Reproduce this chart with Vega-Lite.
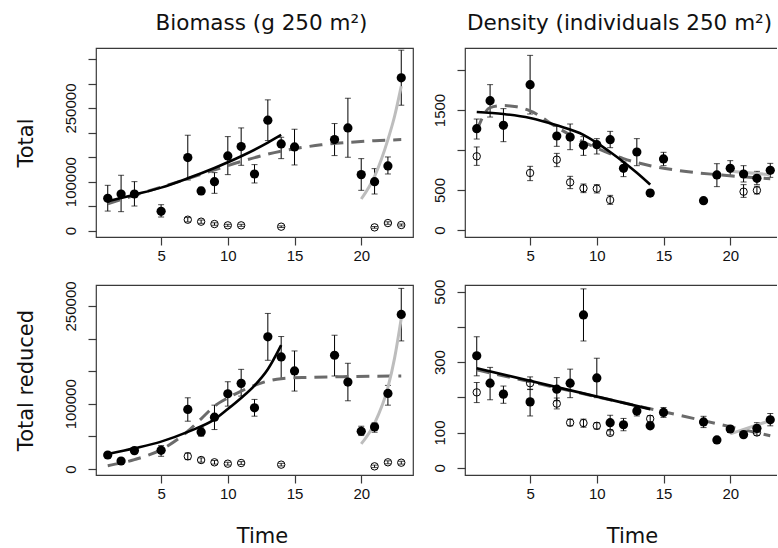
{
  "$schema": "https://vega.github.io/schema/vega-lite/v6.json",
  "background": "white",
  "padding": {"left": 14, "top": 11, "right": -6, "bottom": 0},
  "datasets": {
    "pts": [
      {"p":"TL","t":1,"v":66000,"lo":40000,"hi":92500,"f":1},
      {"p":"TL","t":2,"v":74800,"lo":38800,"hi":113000,"f":1},
      {"p":"TL","t":3,"v":74800,"lo":50300,"hi":100000,"f":1},
      {"p":"TL","t":5,"v":39500,"lo":27900,"hi":53000,"f":1},
      {"p":"TL","t":7,"v":149000,"lo":103400,"hi":194600,"f":1},
      {"p":"TL","t":8,"v":81000,"lo":73500,"hi":88400,"f":1},
      {"p":"TL","t":9,"v":100000,"lo":76200,"hi":118400,"f":1},
      {"p":"TL","t":10,"v":152400,"lo":114300,"hi":191800,"f":1},
      {"p":"TL","t":11,"v":171400,"lo":133300,"hi":209500,"f":1},
      {"p":"TL","t":12,"v":115600,"lo":97300,"hi":134700,"f":1},
      {"p":"TL","t":13,"v":225200,"lo":183700,"hi":266700,"f":1},
      {"p":"TL","t":14,"v":176900,"lo":146900,"hi":190500,"f":1},
      {"p":"TL","t":15,"v":170700,"lo":134000,"hi":206800,"f":1},
      {"p":"TL","t":18,"v":185700,"lo":153100,"hi":218400,"f":1},
      {"p":"TL","t":19,"v":209500,"lo":149700,"hi":270000,"f":1},
      {"p":"TL","t":20,"v":114300,"lo":82300,"hi":146900,"f":1},
      {"p":"TL","t":21,"v":100000,"lo":74800,"hi":126500,"f":1},
      {"p":"TL","t":22,"v":132000,"lo":115600,"hi":150300,"f":1},
      {"p":"TL","t":23,"v":311600,"lo":255800,"hi":368000,"f":1},
      {"p":"TL","t":7,"v":22400,"lo":18000,"hi":26800,"f":0},
      {"p":"TL","t":8,"v":18400,"lo":15000,"hi":21800,"f":0},
      {"p":"TL","t":9,"v":13600,"lo":11000,"hi":16200,"f":0},
      {"p":"TL","t":10,"v":10900,"lo":8800,"hi":13000,"f":0},
      {"p":"TL","t":11,"v":10900,"lo":8800,"hi":13000,"f":0},
      {"p":"TL","t":14,"v":8200,"lo":6500,"hi":9900,"f":0},
      {"p":"TL","t":21,"v":6800,"lo":5000,"hi":8600,"f":0},
      {"p":"TL","t":22,"v":15600,"lo":13000,"hi":18200,"f":0},
      {"p":"TL","t":23,"v":11600,"lo":9500,"hi":13700,"f":0},

      {"p":"TR","t":1,"v":1267,"lo":1137,"hi":1387,"f":1},
      {"p":"TR","t":2,"v":1617,"lo":1412,"hi":1817,"f":1},
      {"p":"TR","t":3,"v":1308,"lo":1104,"hi":1517,"f":1},
      {"p":"TR","t":5,"v":1817,"lo":1450,"hi":2183,"f":1},
      {"p":"TR","t":7,"v":1175,"lo":1046,"hi":1296,"f":1},
      {"p":"TR","t":8,"v":1162,"lo":1004,"hi":1325,"f":1},
      {"p":"TR","t":9,"v":1058,"lo":933,"hi":1167,"f":1},
      {"p":"TR","t":10,"v":1067,"lo":950,"hi":1142,"f":1},
      {"p":"TR","t":11,"v":1129,"lo":1029,"hi":1233,"f":1},
      {"p":"TR","t":12,"v":771,"lo":667,"hi":850,"f":1},
      {"p":"TR","t":13,"v":975,"lo":804,"hi":1142,"f":1},
      {"p":"TR","t":14,"v":462,"lo":425,"hi":500,"f":1},
      {"p":"TR","t":15,"v":888,"lo":804,"hi":971,"f":1},
      {"p":"TR","t":18,"v":367,"lo":340,"hi":395,"f":1},
      {"p":"TR","t":19,"v":688,"lo":542,"hi":829,"f":1},
      {"p":"TR","t":20,"v":771,"lo":683,"hi":867,"f":1},
      {"p":"TR","t":21,"v":700,"lo":600,"hi":804,"f":1},
      {"p":"TR","t":22,"v":646,"lo":567,"hi":733,"f":1},
      {"p":"TR","t":23,"v":746,"lo":658,"hi":833,"f":1},
      {"p":"TR","t":1,"v":921,"lo":808,"hi":1038,"f":0},
      {"p":"TR","t":5,"v":713,"lo":617,"hi":796,"f":0},
      {"p":"TR","t":7,"v":879,"lo":792,"hi":958,"f":0},
      {"p":"TR","t":8,"v":596,"lo":517,"hi":671,"f":0},
      {"p":"TR","t":9,"v":521,"lo":467,"hi":575,"f":0},
      {"p":"TR","t":10,"v":517,"lo":463,"hi":567,"f":0},
      {"p":"TR","t":11,"v":375,"lo":321,"hi":433,"f":0},
      {"p":"TR","t":21,"v":479,"lo":408,"hi":567,"f":0},
      {"p":"TR","t":22,"v":496,"lo":450,"hi":546,"f":0},

      {"p":"BL","t":1,"v":21500,"lo":18000,"hi":25000,"f":1},
      {"p":"BL","t":2,"v":12300,"lo":10000,"hi":14600,"f":1},
      {"p":"BL","t":3,"v":28200,"lo":24000,"hi":32400,"f":1},
      {"p":"BL","t":5,"v":28700,"lo":19500,"hi":35900,"f":1},
      {"p":"BL","t":7,"v":91300,"lo":73300,"hi":109200,"f":1},
      {"p":"BL","t":8,"v":56900,"lo":50300,"hi":64100,"f":1},
      {"p":"BL","t":9,"v":79500,"lo":60500,"hi":97900,"f":1},
      {"p":"BL","t":10,"v":115400,"lo":96400,"hi":133800,"f":1},
      {"p":"BL","t":11,"v":131300,"lo":111800,"hi":152800,"f":1},
      {"p":"BL","t":12,"v":93800,"lo":81000,"hi":106700,"f":1},
      {"p":"BL","t":13,"v":202600,"lo":166700,"hi":238500,"f":1},
      {"p":"BL","t":14,"v":171800,"lo":138500,"hi":203100,"f":1},
      {"p":"BL","t":15,"v":150300,"lo":119500,"hi":181000,"f":1},
      {"p":"BL","t":18,"v":174400,"lo":142600,"hi":205100,"f":1},
      {"p":"BL","t":19,"v":133300,"lo":104600,"hi":162100,"f":1},
      {"p":"BL","t":20,"v":57900,"lo":51300,"hi":65600,"f":1},
      {"p":"BL","t":21,"v":64600,"lo":56400,"hi":70800,"f":1},
      {"p":"BL","t":22,"v":115900,"lo":97900,"hi":128200,"f":1},
      {"p":"BL","t":23,"v":236900,"lo":196400,"hi":276900,"f":1},
      {"p":"BL","t":7,"v":19500,"lo":14400,"hi":24600,"f":0},
      {"p":"BL","t":8,"v":13800,"lo":10500,"hi":17100,"f":0},
      {"p":"BL","t":9,"v":10300,"lo":7500,"hi":13100,"f":0},
      {"p":"BL","t":10,"v":8200,"lo":6000,"hi":10400,"f":0},
      {"p":"BL","t":11,"v":9200,"lo":7000,"hi":11400,"f":0},
      {"p":"BL","t":14,"v":6700,"lo":4700,"hi":8700,"f":0},
      {"p":"BL","t":21,"v":4100,"lo":2200,"hi":6000,"f":0},
      {"p":"BL","t":22,"v":10300,"lo":8000,"hi":12600,"f":0},
      {"p":"BL","t":23,"v":9700,"lo":7500,"hi":11900,"f":0},

      {"p":"BR","t":1,"v":318,"lo":261,"hi":372,"f":1},
      {"p":"BR","t":2,"v":240,"lo":193,"hi":285,"f":1},
      {"p":"BR","t":3,"v":209,"lo":183,"hi":232,"f":1},
      {"p":"BR","t":5,"v":187,"lo":147,"hi":223,"f":1},
      {"p":"BR","t":7,"v":223,"lo":190,"hi":256,"f":1},
      {"p":"BR","t":8,"v":240,"lo":199,"hi":280,"f":1},
      {"p":"BR","t":9,"v":434,"lo":360,"hi":508,"f":1},
      {"p":"BR","t":10,"v":255,"lo":199,"hi":311,"f":1},
      {"p":"BR","t":11,"v":128,"lo":108,"hi":149,"f":1},
      {"p":"BR","t":12,"v":122,"lo":105,"hi":140,"f":1},
      {"p":"BR","t":13,"v":161,"lo":147,"hi":171,"f":1},
      {"p":"BR","t":14,"v":119,"lo":111,"hi":127,"f":1},
      {"p":"BR","t":15,"v":157,"lo":143,"hi":171,"f":1},
      {"p":"BR","t":18,"v":130,"lo":114,"hi":146,"f":1},
      {"p":"BR","t":19,"v":79,"lo":76,"hi":82,"f":1},
      {"p":"BR","t":20,"v":110,"lo":100,"hi":119,"f":1},
      {"p":"BR","t":21,"v":94,"lo":90,"hi":98,"f":1},
      {"p":"BR","t":22,"v":112,"lo":100,"hi":128,"f":1},
      {"p":"BR","t":23,"v":136,"lo":119,"hi":154,"f":1},
      {"p":"BR","t":1,"v":214,"lo":185,"hi":242,"f":0},
      {"p":"BR","t":5,"v":240,"lo":222,"hi":258,"f":0},
      {"p":"BR","t":7,"v":182,"lo":167,"hi":198,"f":0},
      {"p":"BR","t":8,"v":128,"lo":119,"hi":138,"f":0},
      {"p":"BR","t":9,"v":127,"lo":115,"hi":138,"f":0},
      {"p":"BR","t":10,"v":119,"lo":110,"hi":128,"f":0},
      {"p":"BR","t":11,"v":99,"lo":93,"hi":105,"f":0},
      {"p":"BR","t":14,"v":139,"lo":130,"hi":148,"f":0},
      {"p":"BR","t":22,"v":100,"lo":92,"hi":108,"f":0}
    ],
    "lns": [
      {"p":"TL","s":"b","t":1,"v":59900},{"p":"TL","s":"b","t":3,"v":73500},{"p":"TL","s":"b","t":5,"v":87800},{"p":"TL","s":"b","t":7,"v":106800},{"p":"TL","s":"b","t":9,"v":127900},{"p":"TL","s":"b","t":11,"v":151700},{"p":"TL","s":"b","t":13,"v":179600},{"p":"TL","s":"b","t":14,"v":195200},
      {"p":"TL","s":"d","t":1,"v":55000},{"p":"TL","s":"d","t":3,"v":72000},{"p":"TL","s":"d","t":5,"v":89000},{"p":"TL","s":"d","t":7,"v":106000},{"p":"TL","s":"d","t":9,"v":124000},{"p":"TL","s":"d","t":11,"v":141000},{"p":"TL","s":"d","t":13,"v":156000},{"p":"TL","s":"d","t":15,"v":167000},{"p":"TL","s":"d","t":17,"v":175000},{"p":"TL","s":"d","t":19,"v":180000},{"p":"TL","s":"d","t":21,"v":183500},{"p":"TL","s":"d","t":23,"v":185700},
      {"p":"TL","s":"g","t":20,"v":64600},{"p":"TL","s":"g","t":21,"v":110900},{"p":"TL","s":"g","t":22,"v":185700},{"p":"TL","s":"g","t":22.5,"v":233300},{"p":"TL","s":"g","t":23,"v":294600},

      {"p":"TR","s":"b","t":1,"v":1475},{"p":"TR","s":"b","t":3,"v":1450},{"p":"TR","s":"b","t":5,"v":1400},{"p":"TR","s":"b","t":7,"v":1308},{"p":"TR","s":"b","t":9,"v":1190},{"p":"TR","s":"b","t":10,"v":1090},{"p":"TR","s":"b","t":11,"v":975},{"p":"TR","s":"b","t":12,"v":850},{"p":"TR","s":"b","t":13,"v":715},{"p":"TR","s":"b","t":14,"v":567},
      {"p":"TR","s":"d","t":1,"v":1242},{"p":"TR","s":"d","t":2,"v":1530},{"p":"TR","s":"d","t":3,"v":1555},{"p":"TR","s":"d","t":4,"v":1540},{"p":"TR","s":"d","t":5,"v":1490},{"p":"TR","s":"d","t":7,"v":1285},{"p":"TR","s":"d","t":9,"v":1100},{"p":"TR","s":"d","t":10,"v":1025},{"p":"TR","s":"d","t":12,"v":892},{"p":"TR","s":"d","t":14,"v":804},{"p":"TR","s":"d","t":16,"v":746},{"p":"TR","s":"d","t":19,"v":692},{"p":"TR","s":"d","t":23,"v":642},
      {"p":"TR","s":"g","t":20,"v":733},{"p":"TR","s":"g","t":23,"v":692},

      {"p":"BL","s":"b","t":1,"v":23100},{"p":"BL","s":"b","t":3,"v":31800},{"p":"BL","s":"b","t":5,"v":42000},{"p":"BL","s":"b","t":7,"v":57000},{"p":"BL","s":"b","t":9,"v":76000},{"p":"BL","s":"b","t":10,"v":92000},{"p":"BL","s":"b","t":11,"v":109000},{"p":"BL","s":"b","t":12,"v":128000},{"p":"BL","s":"b","t":13,"v":153000},{"p":"BL","s":"b","t":14,"v":190000},
      {"p":"BL","s":"d","t":1,"v":5100},{"p":"BL","s":"d","t":3,"v":14400},{"p":"BL","s":"d","t":5,"v":29700},{"p":"BL","s":"d","t":7,"v":57900},{"p":"BL","s":"d","t":8,"v":77000},{"p":"BL","s":"d","t":9,"v":96400},{"p":"BL","s":"d","t":10,"v":109000},{"p":"BL","s":"d","t":11,"v":119500},{"p":"BL","s":"d","t":12,"v":128200},{"p":"BL","s":"d","t":13,"v":134900},{"p":"BL","s":"d","t":14,"v":138500},{"p":"BL","s":"d","t":16,"v":140500},{"p":"BL","s":"d","t":19,"v":141700},{"p":"BL","s":"d","t":23,"v":142600},
      {"p":"BL","s":"g","t":20,"v":38500},{"p":"BL","s":"g","t":21,"v":70000},{"p":"BL","s":"g","t":22,"v":125000},{"p":"BL","s":"g","t":22.5,"v":170000},{"p":"BL","s":"g","t":23,"v":231000},

      {"p":"BR","s":"b","t":1,"v":282.6},{"p":"BR","s":"b","t":14,"v":166.4},
      {"p":"BR","s":"d","t":1,"v":278},{"p":"BR","s":"d","t":23,"v":91},
      {"p":"BR","s":"g","t":20,"v":96},{"p":"BR","s":"g","t":23,"v":134}
    ]
  },
  "spacing": 14,
  "vconcat": [
    {
      "spacing": 17,
      "hconcat": [
        {
          "width": 317, "height": 189,
          "title": {"text": "Biomass (g 250 m²)", "dx": 7},
          "encoding": {
            "x": {"field": "t", "type": "quantitative", "scale": {"domain": [0.12, 23.88], "nice": false, "zero": false}, "axis": {"values": [5,10,15,20], "format": "d", "title": null}},
            "y": {"field": "v", "type": "quantitative", "scale": {"domain": [-12840, 372400], "nice": false, "zero": false}, "axis": {"values": [0,50000,100000,150000,200000,250000,300000,350000], "format": "d", "labelExpr": "indexof([0,100000,250000], datum.value) >= 0 ? datum.label : ''", "title": "Total"}}
          },
          "layer": [
            {"data": {"name": "pts"}, "transform": [{"filter": "datum.p == 'TL'"}], "mark": {"type": "errorbar", "ticks": {"size": 6}, "thickness": 1, "color": "#000"},
             "encoding": {"y": {"field": "lo", "type": "quantitative", "scale": {"domain": [-12840, 372400], "nice": false, "zero": false}, "axis": {"values": [0,50000,100000,150000,200000,250000,300000,350000], "format": "d", "labelExpr": "indexof([0,100000,250000], datum.value) >= 0 ? datum.label : ''", "title": "Total"}}, "y2": {"field": "hi"}}},
            {"data": {"name": "lns"}, "transform": [{"filter": "datum.p == 'TL' && datum.s == 'd'"}], "mark": {"type": "line", "color": "#6b6b6b", "strokeWidth": 3, "strokeDash": [13, 8], "interpolate": "monotone"}},
            {"data": {"name": "lns"}, "transform": [{"filter": "datum.p == 'TL' && datum.s == 'b'"}], "mark": {"type": "line", "color": "#000", "strokeWidth": 2.6, "interpolate": "monotone"}},
            {"data": {"name": "lns"}, "transform": [{"filter": "datum.p == 'TL' && datum.s == 'g'"}], "mark": {"type": "line", "color": "#bdbdbd", "strokeWidth": 3, "interpolate": "monotone"}},
            {"data": {"name": "pts"}, "transform": [{"filter": "datum.p == 'TL' && datum.f == 1"}], "mark": {"type": "point", "filled": true, "color": "#000", "size": 85, "opacity": 1}},
            {"data": {"name": "pts"}, "transform": [{"filter": "datum.p == 'TL' && datum.f == 0"}], "mark": {"type": "point", "filled": false, "color": "#000", "size": 55, "strokeWidth": 1, "opacity": 1}}
          ]
        },
        {
          "width": 317, "height": 189,
          "title": {"text": "Density (individuals 250 m²)", "dx": -4},
          "encoding": {
            "x": {"field": "t", "type": "quantitative", "scale": {"domain": [0.12, 23.88], "nice": false, "zero": false}, "axis": {"values": [5,10,15,20], "format": "d", "title": null}},
            "y": {"field": "v", "type": "quantitative", "scale": {"domain": [-87.5, 2275], "nice": false, "zero": false}, "axis": {"values": [0,500,1000,1500,2000], "format": "d", "labelExpr": "indexof([0,500,1500], datum.value) >= 0 ? datum.label : ''", "title": null}}
          },
          "layer": [
            {"data": {"name": "pts"}, "transform": [{"filter": "datum.p == 'TR'"}], "mark": {"type": "errorbar", "ticks": {"size": 6}, "thickness": 1, "color": "#000"},
             "encoding": {"y": {"field": "lo", "type": "quantitative", "scale": {"domain": [-87.5, 2275], "nice": false, "zero": false}, "axis": {"values": [0,500,1000,1500,2000], "format": "d", "labelExpr": "indexof([0,500,1500], datum.value) >= 0 ? datum.label : ''", "title": null}}, "y2": {"field": "hi"}}},
            {"data": {"name": "lns"}, "transform": [{"filter": "datum.p == 'TR' && datum.s == 'd'"}], "mark": {"type": "line", "color": "#6b6b6b", "strokeWidth": 3, "strokeDash": [13, 8], "interpolate": "monotone"}},
            {"data": {"name": "lns"}, "transform": [{"filter": "datum.p == 'TR' && datum.s == 'b'"}], "mark": {"type": "line", "color": "#000", "strokeWidth": 2.6, "interpolate": "monotone"}},
            {"data": {"name": "lns"}, "transform": [{"filter": "datum.p == 'TR' && datum.s == 'g'"}], "mark": {"type": "line", "color": "#bdbdbd", "strokeWidth": 3, "interpolate": "monotone"}},
            {"data": {"name": "pts"}, "transform": [{"filter": "datum.p == 'TR' && datum.f == 1"}], "mark": {"type": "point", "filled": true, "color": "#000", "size": 85, "opacity": 1}},
            {"data": {"name": "pts"}, "transform": [{"filter": "datum.p == 'TR' && datum.f == 0"}], "mark": {"type": "point", "filled": false, "color": "#000", "size": 55, "strokeWidth": 1, "opacity": 1}}
          ]
        }
      ]
    },
    {
      "spacing": 17,
      "hconcat": [
        {
          "width": 317, "height": 190,
          "encoding": {
            "x": {"field": "t", "type": "quantitative", "scale": {"domain": [0.12, 23.88], "nice": false, "zero": false}, "axis": {"values": [5,10,15,20], "format": "d", "title": "Time", "titleX": 166}},
            "y": {"field": "v", "type": "quantitative", "scale": {"domain": [-9170, 282100], "nice": false, "zero": false}, "axis": {"values": [0,50000,100000,150000,200000,250000], "format": "d", "labelExpr": "indexof([0,100000,250000], datum.value) >= 0 ? datum.label : ''", "title": "Total reduced"}}
          },
          "layer": [
            {"data": {"name": "pts"}, "transform": [{"filter": "datum.p == 'BL'"}], "mark": {"type": "errorbar", "ticks": {"size": 6}, "thickness": 1, "color": "#000"},
             "encoding": {"y": {"field": "lo", "type": "quantitative", "scale": {"domain": [-9170, 282100], "nice": false, "zero": false}, "axis": {"values": [0,50000,100000,150000,200000,250000], "format": "d", "labelExpr": "indexof([0,100000,250000], datum.value) >= 0 ? datum.label : ''", "title": "Total reduced"}}, "y2": {"field": "hi"}}},
            {"data": {"name": "lns"}, "transform": [{"filter": "datum.p == 'BL' && datum.s == 'd'"}], "mark": {"type": "line", "color": "#6b6b6b", "strokeWidth": 3, "strokeDash": [13, 8], "interpolate": "monotone"}},
            {"data": {"name": "lns"}, "transform": [{"filter": "datum.p == 'BL' && datum.s == 'b'"}], "mark": {"type": "line", "color": "#000", "strokeWidth": 2.6, "interpolate": "monotone"}},
            {"data": {"name": "lns"}, "transform": [{"filter": "datum.p == 'BL' && datum.s == 'g'"}], "mark": {"type": "line", "color": "#bdbdbd", "strokeWidth": 3, "interpolate": "monotone"}},
            {"data": {"name": "pts"}, "transform": [{"filter": "datum.p == 'BL' && datum.f == 1"}], "mark": {"type": "point", "filled": true, "color": "#000", "size": 85, "opacity": 1}},
            {"data": {"name": "pts"}, "transform": [{"filter": "datum.p == 'BL' && datum.f == 0"}], "mark": {"type": "point", "filled": false, "color": "#000", "size": 55, "strokeWidth": 1, "opacity": 1}}
          ]
        },
        {
          "width": 317, "height": 190,
          "encoding": {
            "x": {"field": "t", "type": "quantitative", "scale": {"domain": [0.12, 23.88], "nice": false, "zero": false}, "axis": {"values": [5,10,15,20], "format": "d", "title": "Time", "titleX": 167}},
            "y": {"field": "v", "type": "quantitative", "scale": {"domain": [-20.7, 519], "nice": false, "zero": false}, "axis": {"values": [0,100,200,300,400,500], "format": "d", "labelExpr": "indexof([0,100,300,500], datum.value) >= 0 ? datum.label : ''", "title": null}}
          },
          "layer": [
            {"data": {"name": "pts"}, "transform": [{"filter": "datum.p == 'BR'"}], "mark": {"type": "errorbar", "ticks": {"size": 6}, "thickness": 1, "color": "#000"},
             "encoding": {"y": {"field": "lo", "type": "quantitative", "scale": {"domain": [-20.7, 519], "nice": false, "zero": false}, "axis": {"values": [0,100,200,300,400,500], "format": "d", "labelExpr": "indexof([0,100,300,500], datum.value) >= 0 ? datum.label : ''", "title": null}}, "y2": {"field": "hi"}}},
            {"data": {"name": "lns"}, "transform": [{"filter": "datum.p == 'BR' && datum.s == 'd'"}], "mark": {"type": "line", "color": "#6b6b6b", "strokeWidth": 3, "strokeDash": [13, 8]}},
            {"data": {"name": "lns"}, "transform": [{"filter": "datum.p == 'BR' && datum.s == 'b'"}], "mark": {"type": "line", "color": "#000", "strokeWidth": 2.6}},
            {"data": {"name": "lns"}, "transform": [{"filter": "datum.p == 'BR' && datum.s == 'g'"}], "mark": {"type": "line", "color": "#bdbdbd", "strokeWidth": 3}},
            {"data": {"name": "pts"}, "transform": [{"filter": "datum.p == 'BR' && datum.f == 1"}], "mark": {"type": "point", "filled": true, "color": "#000", "size": 85, "opacity": 1}},
            {"data": {"name": "pts"}, "transform": [{"filter": "datum.p == 'BR' && datum.f == 0"}], "mark": {"type": "point", "filled": false, "color": "#000", "size": 55, "strokeWidth": 1, "opacity": 1}}
          ]
        }
      ]
    }
  ],
  "config": {
    "view": {"stroke": "#3a3a3a", "strokeWidth": 1.2},
    "axis": {"grid": false, "domain": false, "tickColor": "#3a3a3a", "tickSize": 8, "tickWidth": 1.2, "labelFont": "Liberation Sans", "labelFontSize": 15, "labelColor": "#111", "labelOverlap": false, "labelFlush": false, "titleFont": "DejaVu Sans", "titleFontSize": 21, "titleFontWeight": "normal", "titleColor": "#111"},
    "axisX": {"labelPadding": 3, "titlePadding": 24},
    "axisY": {"labelAngle": -90, "labelPadding": 10, "titlePadding": 27},
    "title": {"font": "DejaVu Sans", "fontSize": 21.5, "fontWeight": "normal", "color": "#111", "offset": 14, "anchor": "middle", "frame": "group"}
  }
}
